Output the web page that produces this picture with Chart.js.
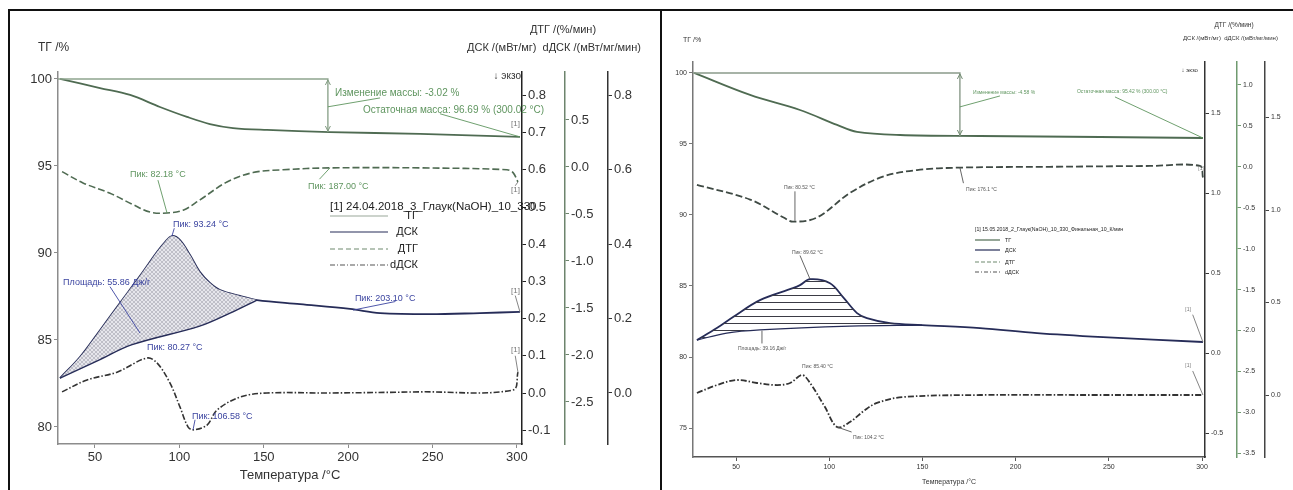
<!DOCTYPE html>
<html>
<head>
<meta charset="utf-8">
<script src="https://cdn.jsdelivr.net/npm/chart.js@4.4.1/dist/chart.umd.min.js"></script>
<style>
  body { margin: 0; background: #fff; width: 1293px; height: 490px; overflow: hidden; position: relative; }
  .rule { position: absolute; background: #111; }
  #wrapA { position: absolute; left: 12px; top: 12px; }
  #wrapB { position: absolute; left: 663px; top: 12px; }
</style>
</head>
<body>
<div class="rule" style="left:8px;top:9px;width:1285px;height:2px"></div>
<div class="rule" style="left:8px;top:9px;width:2px;height:481px"></div>
<div class="rule" style="left:660px;top:9px;width:2px;height:481px"></div>
<div id="wrapA"><canvas id="chartA" width="645" height="478"></canvas></div>
<div id="wrapB"><canvas id="chartB" width="630" height="478"></canvas></div>
<script>
// ---------- sample A : 24.04.2018_3 ----------
const tempTicks = [50, 100, 150, 200, 250, 300];

const tgT_A = [29.3, 53, 70.8, 88.5, 104.5, 118.1, 131.8, 151.9, 189.2, 242.6, 301.8];
const tgV_A = [100.0, 99.48, 99.08, 98.39, 97.82, 97.41, 97.18, 97.07, 96.95, 96.84, 96.67];

const dtgT_A = [30.5, 42.9, 58.9, 72.5, 82.6, 92.7, 102.2, 112.2, 128.2, 143.6, 161.4, 189.2, 242.6, 294.1, 297.7, 300.6];
const dtgV_A = [-0.05, -0.17, -0.28, -0.40, -0.48, -0.49, -0.46, -0.35, -0.16, -0.06, -0.03, -0.01, -0.01, -0.03, -0.06, -0.16];

const dscT_A = [29.3, 41.1, 53, 64.8, 76.7, 86.7, 91.5, 95.6, 100.4, 106.3, 112.2, 118.1, 124.1, 135.9, 146, 171.5, 201.1, 218.9, 248.5, 278.1, 301.8];
const dscV_A = [0.04, 0.097, 0.169, 0.242, 0.315, 0.379, 0.406, 0.422, 0.411, 0.371, 0.325, 0.296, 0.277, 0.261, 0.25, 0.239, 0.226, 0.215, 0.212, 0.215, 0.218];

const baseT_A = [29.3, 53, 72, 112, 130, 146];
const baseV_A = [0.04, 0.09, 0.13, 0.18, 0.215, 0.25];

const ddscT_A = [30.5, 45.3, 63.1, 80.8, 86.7, 94.4, 100.4, 105.1, 108.1, 116.4, 122.3, 135.9, 151.9, 189.2, 242.6, 297.7, 300.6];
const ddscV_A = [0.003, 0.035, 0.056, 0.094, 0.081, 0.027, -0.038, -0.091, -0.099, -0.086, -0.046, -0.011, 0.0, 0.0, 0.003, 0.008, 0.056];

const massT_A = [28.1, 188, 188];
const massV_A = [100, 100, 96.95];

const tgTicks_A = [80, 85, 90, 95, 100];
const dscTicks_A = [-0.1, 0, 0.1, 0.2, 0.3, 0.4, 0.5, 0.6, 0.7, 0.8];
const dtgTicks_A = [-2.5, -2, -1.5, -1, -0.5, 0, 0.5];
const ddscTicks_A = [0, 0.2, 0.4, 0.6, 0.8];

// ---------- sample B : 15.05.2018_2 ----------
const tgT_B = [27.5, 57.5, 84.3, 104.2, 114.9, 138, 180.9, 245.3, 300.5];
const tgV_B = [100.0, 98.45, 97.39, 96.34, 95.85, 95.63, 95.56, 95.49, 95.42];

const dtgT_B = [29, 57.5, 75.5, 80.5, 93.4, 111.1, 128.8, 147.1, 170.1, 218.4, 272, 298.9, 300.5];
const dtgV_B = [-0.22, -0.40, -0.62, -0.67, -0.62, -0.32, -0.12, -0.04, -0.01, 0, 0.01, 0.01, -0.13];

const dscT_B = [29, 39.7, 48.4, 62.8, 80.5, 84.3, 89.7, 100.4, 107.4, 114.9, 120.2, 132.6, 149.8, 180.9, 211.5, 246.9, 300.5];
const dscV_B = [0.081, 0.156, 0.225, 0.331, 0.406, 0.425, 0.462, 0.437, 0.35, 0.25, 0.219, 0.187, 0.175, 0.156, 0.125, 0.1, 0.069];

const baseT_B = [29, 45, 62.8, 111.1, 149.8];
const baseV_B = [0.081, 0.125, 0.145, 0.168, 0.175];

const ddscT_B = [29, 39.8, 50.5, 61.2, 72, 79, 85.4, 89.7, 97.7, 104.2, 111.1, 119.2, 125.6, 139.6, 180.9, 245.3, 300.5];
const ddscV_B = [0.011, 0.054, 0.081, 0.065, 0.054, 0.065, 0.108, 0.065, -0.065, -0.173, -0.146, -0.081, -0.043, -0.011, 0, 0, 0];

const massT_B = [26.9, 170.1, 170.1];
const massV_B = [100, 100, 95.56];

const tgTicks_B = [75, 80, 85, 90, 95, 100];
const dscTicks_B = [-0.5, 0, 0.5, 1, 1.5];
const dtgTicks_B = [-3.5, -3, -2.5, -2, -1.5, -1, -0.5, 0, 0.5, 1];
const ddscTicks_B = [0, 0.5, 1, 1.5];

const legendNames = ['ТГ', 'ДСК', 'ДТГ', 'dДСК'];

// ---------- helpers ----------
const FONT = '"Liberation Sans", Arial, sans-serif';
Chart.defaults.font.family = FONT;
Chart.defaults.color = '#333';
Chart.defaults.animation = false;

const pts = (xs, ys) => xs.map((x, i) => ({ x: x, y: ys[i] }));
const within = (xs, ys, lo, hi) => pts(xs, ys).filter(p => p.x >= lo && p.x <= hi);
const fixed = size => s => { if (s.isHorizontal()) s.height = size; else s.width = size; };
const ticksAt = list => s => { s.ticks = list.map(v => ({ value: v })); };

function hatch(kind) {
  const c = document.createElement('canvas');
  const g = c.getContext('2d');
  if (kind === 'cross') {
    c.width = 4; c.height = 4;
    g.fillStyle = '#e6e6ec'; g.fillRect(0, 0, 4, 4);
    g.strokeStyle = '#a4a4b0'; g.lineWidth = 0.6;
    g.beginPath(); g.moveTo(0, 4); g.lineTo(4, 0); g.moveTo(0, 0); g.lineTo(4, 4); g.stroke();
  } else {
    c.width = 8; c.height = 7;
    g.strokeStyle = '#3b3b45'; g.lineWidth = 1;
    g.beginPath(); g.moveTo(0, 3.5); g.lineTo(8, 3.5); g.stroke();
  }
  return document.createElement('canvas').getContext('2d').createPattern(c, 'repeat');
}

function axis(pos, min, max, list, width, color, fsize, fmt) {
  return {
    type: 'linear', position: pos, min: min, max: max,
    afterBuildTicks: ticksAt(list), afterFit: fixed(width),
    grid: { drawOnChartArea: false, drawTicks: true, tickLength: 4, color: color, lineWidth: 1 },
    border: { display: true, color: color, width: 1.5 },
    ticks: { autoSkip: false, font: { size: fsize }, color: '#333', padding: 2, callback: fmt }
  };
}

function line(label, data, ax, color, width, dash) {
  return { label: label, data: data, yAxisID: ax, borderColor: color, borderWidth: width,
           borderDash: dash || [], pointRadius: 0, tension: 0.35, fill: false };
}

// annotations, axis titles, in-plot legend
function decoPlugin(d) {
  return {
    id: 'deco',
    afterDraw(chart) {
      const ctx = chart.ctx, a = chart.chartArea, sx = chart.scales.x;
      ctx.save();
      // arrow heads on mass-change bar
      const st = chart.scales.yTG;
      const ax = sx.getPixelForValue(d.mass.x);
      [[d.mass.top, -1], [d.mass.bottom, 1]].forEach(([v, dir]) => {
        const py = st.getPixelForValue(v) - dir * 1;
        ctx.strokeStyle = d.massColor; ctx.lineWidth = 1;
        ctx.beginPath();
        ctx.moveTo(ax - 2.5, py - dir * 5); ctx.lineTo(ax, py); ctx.lineTo(ax + 2.5, py - dir * 5);
        ctx.stroke();
      });
      d.notes.forEach(n => {
        const sy = chart.scales[n.ax];
        if (n.from) {
          ctx.strokeStyle = n.color; ctx.lineWidth = 0.9; ctx.setLineDash([]);
          ctx.beginPath();
          ctx.moveTo(sx.getPixelForValue(n.from[0]), sy.getPixelForValue(n.from[1]));
          ctx.lineTo(sx.getPixelForValue(n.to[0]), sy.getPixelForValue(n.to[1]));
          ctx.stroke();
        }
        ctx.font = n.size + 'px ' + FONT;
        ctx.fillStyle = n.color; ctx.textAlign = n.align || 'left'; ctx.textBaseline = 'middle';
        ctx.fillText(n.text, sx.getPixelForValue(n.x), sy.getPixelForValue(n.y));
      });
      // axis titles
      ctx.fillStyle = '#333'; ctx.textBaseline = 'middle';
      d.titles.forEach(t => {
        ctx.font = t.size + 'px ' + FONT;
        ctx.textAlign = t.align;
        const base = t.ref === 'left' ? a.left : t.ref === 'right' ? a.right : chart.scales[t.ref].left;
        ctx.fillText(t.text, base + t.dx, a.top + t.dy);
      });
      // legend
      const L = d.legend;
      ctx.font = L.head + 'px ' + FONT; ctx.textAlign = 'left'; ctx.fillStyle = '#222';
      ctx.fillText(L.title, a.left + L.x, a.top + L.y);
      legendNames.forEach((name, i) => {
        const y = a.top + L.rows[i];
        ctx.strokeStyle = L.colors[i]; ctx.lineWidth = 1.2; ctx.setLineDash(L.dashes[i]);
        ctx.beginPath(); ctx.moveTo(a.left + L.x, y); ctx.lineTo(a.left + L.x + L.len, y); ctx.stroke();
        ctx.setLineDash([]);
        ctx.font = L.size + 'px ' + FONT; ctx.fillStyle = '#222';
        ctx.textAlign = L.labelAlign;
        ctx.fillText(name, a.left + L.lx, y);
      });
      ctx.restore();
    }
  };
}

const GREEN = '#4f6b52', NAVY = '#262c58', DARK = '#333', NOTE_G = '#5f955f', NOTE_B = '#3b44a0';
const f0 = v => String(v), f1 = v => v.toFixed(1);

// ---------- chart A ----------
const notesA = [
  { ax: 'yTG', x: 192.2, y: 99.2, text: 'Изменение массы: -3.02 %', color: NOTE_G, size: 10, from: [188, 98.4], to: [218.9, 98.91] },
  { ax: 'yTG', x: 208.8, y: 98.22, text: 'Остаточная масса: 96.69 % (300.02 °C)', color: NOTE_G, size: 10, from: [254.4, 98.0], to: [301.8, 96.67] },
  { ax: 'yTG', x: 296.5, y: 97.45, text: '[1]', color: '#777', size: 8 },
  { ax: 'yDTG', x: 70.8, y: -0.085, text: 'Пик: 82.18 °C', color: NOTE_G, size: 9, from: [87.3, -0.14], to: [92.7, -0.49] },
  { ax: 'yDTG', x: 176.2, y: -0.21, text: 'Пик: 187.00 °C', color: NOTE_G, size: 9, from: [183, -0.13], to: [189.2, -0.01] },
  { ax: 'yDTG', x: 296.5, y: -0.24, text: '[1]', color: '#777', size: 8, from: [299, -0.2], to: [300.6, -0.16] },
  { ax: 'yDSC', x: 96.2, y: 0.454, text: 'Пик: 93.24 °C', color: NOTE_B, size: 9, from: [97, 0.443], to: [95.6, 0.422] },
  { ax: 'yDSC', x: 31.1, y: 0.298, text: 'Площадь: 55.86 Дж/г', color: NOTE_B, size: 9, from: [58.9, 0.286], to: [76.7, 0.161] },
  { ax: 'yDSC', x: 204, y: 0.255, text: 'Пик: 203.10 °C', color: NOTE_B, size: 9, from: [228, 0.246], to: [202.9, 0.223] },
  { ax: 'yDSC', x: 296.5, y: 0.275, text: '[1]', color: '#777', size: 8, from: [299, 0.262], to: [301.8, 0.218] },
  { ax: 'yDDSC', x: 80.8, y: 0.123, text: 'Пик: 80.27 °C', color: NOTE_B, size: 9 },
  { ax: 'yDDSC', x: 107.5, y: -0.062, text: 'Пик: 106.58 °C', color: NOTE_B, size: 9, from: [109.3, -0.072], to: [108.1, -0.099] },
  { ax: 'yDDSC', x: 296.5, y: 0.115, text: '[1]', color: '#777', size: 8, from: [299, 0.1], to: [300.6, 0.056] },
  { ax: 'yDSC', x: 302.4, y: 0.852, text: '↓ экзо', color: '#333', size: 10, align: 'right' }
];

const decoA = {
  mass: { x: 188, top: 100, bottom: 96.95 }, massColor: '#7f9a7f',
  notes: notesA,
  titles: [
    { text: 'ТГ /%', size: 12, align: 'left', ref: 'left', dx: -20, dy: -24 },
    { text: 'ДТГ /(%/мин)', size: 11, align: 'center', ref: 'yDTG', dx: -2, dy: -42 },
    { text: 'ДСК /(мВт/мг)  dДСК /(мВт/мг/мин)', size: 11, align: 'left', ref: 'right', dx: -55, dy: -24 }
  ],
  legend: {
    title: '[1] 24.04.2018_3_Глаук(NaOH)_10_330', head: 11.5, size: 11,
    x: 272, y: 135, len: 58, lx: 360, labelAlign: 'right', rows: [144, 160, 177, 193],
    colors: ['#9aa79a', NAVY, '#6f8a6f', '#555'], dashes: [[], [], [5, 3], [5, 2, 1, 2]]
  }
};

const massA = Object.assign(line('mass', pts(massT_A, massV_A), 'yTG', '#8ea58e', 1.4), { tension: 0 });

new Chart(document.getElementById('chartA'), {
  type: 'line',
  data: {
    datasets: [
      massA,
      line('ТГ', pts(tgT_A, tgV_A), 'yTG', GREEN, 1.8),
      line('ДТГ', pts(dtgT_A, dtgV_A), 'yDTG', GREEN, 1.6, [7, 3]),
      line('base', pts(baseT_A, baseV_A), 'yDSC', NAVY, 1.4),
      Object.assign(line('area', within(dscT_A, dscV_A, baseT_A[0], baseT_A[baseT_A.length - 1]), 'yDSC', 'rgba(0,0,0,0)', 0),
        { fill: '-1', backgroundColor: hatch('cross') }),
      line('ДСК', pts(dscT_A, dscV_A), 'yDSC', NAVY, 1.8),
      line('dДСК', pts(ddscT_A, ddscV_A), 'yDDSC', DARK, 1.6, [6, 2, 1.5, 2])
    ]
  },
  options: {
    responsive: false,
    layout: { padding: { top: 60, left: 0, right: 0, bottom: 0 } },
    plugins: { legend: { display: false }, tooltip: { enabled: false } },
    scales: {
      x: Object.assign(axis('bottom', 28.1, 303, tempTicks, 46, '#8c8c8c', 13, f0),
        { title: { display: true, text: 'Температура /°C', font: { size: 13 }, color: '#333', padding: { top: 0, bottom: 7 } } }),
      yTG: axis('left', 79.02, 100.4, tgTicks_A, 46, '#8c8c8c', 13, f0),
      yDSC: axis('right', -0.137, 0.863, dscTicks_A, 43, '#222', 13, f1),
      yDTG: axis('right', -2.947, 1.01, dtgTicks_A, 43, '#6d846d', 13, f1),
      yDDSC: axis('right', -0.137, 0.862, ddscTicks_A, 49, '#333', 13, f1)
    }
  },
  plugins: [decoPlugin(decoA)]
});

// ---------- chart B ----------
const notesB = [
  { ax: 'yTG', x: 177.1, y: 98.59, text: 'Изменение массы: -4.58 %', color: NOTE_G, size: 5, from: [170.1, 97.61], to: [191.6, 98.38] },
  { ax: 'yTG', x: 232.9, y: 98.66, text: 'Остаточная масса: 95.42 % (300.00 °C)', color: NOTE_G, size: 5, from: [253.3, 98.31], to: [300.5, 95.42] },
  { ax: 'yDTG', x: 75.7, y: -0.257, text: 'Пик: 80.52 °C', color: '#555', size: 5, from: [81.6, -0.3], to: [81.6, -0.66] },
  { ax: 'yDTG', x: 173.4, y: -0.281, text: 'Пик: 176.1 °C', color: '#555', size: 5, from: [172, -0.2], to: [170.1, -0.01] },
  { ax: 'yDTG', x: 298, y: -0.02, text: '[1]', color: '#777', size: 5 },
  { ax: 'yDSC', x: 80, y: 0.631, text: 'Пик: 89.62 °C', color: '#555', size: 5, from: [84.3, 0.61], to: [89.7, 0.462] },
  { ax: 'yDSC', x: 51, y: 0.025, text: 'Площадь: 39.16 Дж/г', color: '#555', size: 5, from: [63.9, 0.06], to: [63.9, 0.14] },
  { ax: 'yDSC', x: 291, y: 0.27, text: '[1]', color: '#777', size: 5, from: [295, 0.24], to: [300.5, 0.069] },
  { ax: 'yDDSC', x: 85.4, y: 0.151, text: 'Пик: 85.40 °C', color: '#555', size: 5 },
  { ax: 'yDDSC', x: 112.7, y: -0.232, text: 'Пик: 104.2 °C', color: '#555', size: 5, from: [112, -0.2], to: [104.2, -0.173] },
  { ax: 'yDDSC', x: 291, y: 0.16, text: '[1]', color: '#777', size: 5, from: [295, 0.13], to: [300.5, 0] },
  { ax: 'yDSC', x: 297.8, y: 1.77, text: '↓ экзо', color: '#333', size: 6, align: 'right' }
];

const decoB = {
  mass: { x: 170.1, top: 100, bottom: 95.56 }, massColor: '#6f8a6f',
  notes: notesB,
  titles: [
    { text: 'ТГ /%', size: 7, align: 'left', ref: 'left', dx: -10, dy: -22 },
    { text: 'ДТГ /(%/мин)', size: 6.5, align: 'center', ref: 'yDTG', dx: -3, dy: -37 },
    { text: 'ДСК /(мВт/мг)  dДСК /(мВт/мг/мин)', size: 6, align: 'left', ref: 'right', dx: -22, dy: -24 }
  ],
  legend: {
    title: '[1] 15.05.2018_2_Глаук(NaOH)_10_330_Финальная_10_К/мин', head: 5.2, size: 5.5,
    x: 282, y: 168, len: 25, lx: 312, labelAlign: 'left', rows: [178, 188, 200, 210],
    colors: [GREEN, NAVY, '#6f8a6f', '#555'], dashes: [[], [], [4, 2], [4, 2, 1, 2]]
  }
};

const massB = Object.assign(line('mass', pts(massT_B, massV_B), 'yTG', '#8a9a8a', 1.4), { tension: 0 });

new Chart(document.getElementById('chartB'), {
  type: 'line',
  data: {
    datasets: [
      massB,
      line('ТГ', pts(tgT_B, tgV_B), 'yTG', GREEN, 1.8),
      line('ДТГ', pts(dtgT_B, dtgV_B), 'yDTG', '#3f4a44', 1.8, [7, 3]),
      line('base', pts(baseT_B, baseV_B), 'yDSC', NAVY, 1.2),
      Object.assign(line('area', within(dscT_B, dscV_B, baseT_B[0], baseT_B[baseT_B.length - 1]), 'yDSC', 'rgba(0,0,0,0)', 0),
        { fill: '-1', backgroundColor: hatch('lines') }),
      line('ДСК', pts(dscT_B, dscV_B), 'yDSC', NAVY, 1.8),
      line('dДСК', pts(ddscT_B, ddscV_B), 'yDDSC', DARK, 1.8, [6, 2, 1.5, 2])
    ]
  },
  options: {
    responsive: false,
    layout: { padding: { top: 50, left: 0, right: 0, bottom: 0 } },
    plugins: { legend: { display: false }, tooltip: { enabled: false } },
    scales: {
      x: Object.assign(axis('bottom', 26.9, 301.6, tempTicks, 33, '#555', 7, f0),
        { title: { display: true, text: 'Температура /°C', font: { size: 7 }, color: '#333', padding: { top: 0, bottom: 4 } } }),
      yTG: axis('left', 72.96, 100.77, tgTicks_B, 30, '#777', 7, f0),
      yDSC: axis('right', -0.65, 1.82, dscTicks_B, 32, '#333', 7, f1),
      yDTG: axis('right', -3.545, 1.28, dtgTicks_B, 28, '#6f9a6f', 7, f1),
      yDDSC: axis('right', -0.335, 1.8, ddscTicks_B, 28, '#444', 7, f1)
    }
  },
  plugins: [decoPlugin(decoB)]
});
</script>
</body>
</html>
